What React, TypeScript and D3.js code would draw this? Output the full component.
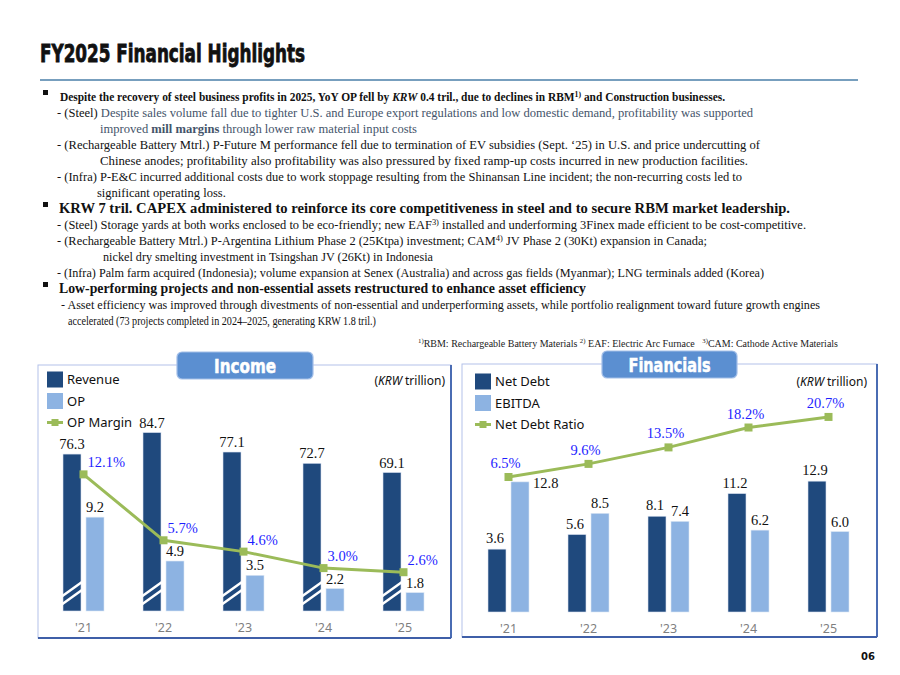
import React from 'react'
import * as d3 from 'd3'

// chart data
const years = ["'21", "'22", "'23", "'24", "'25"]
const revenue = [76.3, 84.7, 77.1, 72.7, 69.1]
const op = [9.2, 4.9, 3.5, 2.2, 1.8]
const opMargin = [12.1, 5.7, 4.6, 3.0, 2.6]
const netDebt = [3.6, 5.6, 8.1, 11.2, 12.9]
const ebitda = [12.8, 8.5, 7.4, 6.2, 6.0]
const netDebtRatio = [6.5, 9.6, 13.5, 18.2, 20.7]

type Seg = { t: string; b?: boolean; i?: boolean; sup?: boolean; muted?: boolean }

// slide text, one entry per printed line
const textRows: Seg[][] = [
  [
    { t: 'Despite the recovery of steel business profits in 2025, YoY OP fell by ' },
    { t: 'KRW', i: true },
    { t: ' 0.4 tril., due to declines in RBM' },
    { t: '1)', sup: true },
    { t: ' and Construction businesses.' }
  ],
  [
    { t: '- (Steel) ' },
    { t: 'Despite sales volume fall due to tighter U.S. and Europe export regulations and low domestic demand, profitability was supported', muted: true }
  ],
  [
    { t: 'improved ', muted: true },
    { t: 'mill margins', muted: true, b: true },
    { t: ' through lower raw material input costs', muted: true }
  ],
  [{ t: '- (Rechargeable Battery Mtrl.) P-Future M performance fell due to termination of EV subsidies (Sept. \u201825) in U.S. and price undercutting of' }],
  [{ t: 'Chinese anodes; profitability also profitability was also pressured by fixed ramp-up costs incurred in new production facilities.' }],
  [{ t: '- (Infra) P-E&C incurred additional costs due to work stoppage resulting from the Shinansan Line incident; the non-recurring costs led to' }],
  [{ t: 'significant operating loss.' }],
  [{ t: 'KRW 7 tril. CAPEX administered to reinforce its core competitiveness in steel and to secure RBM market leadership.' }],
  [
    { t: '- (Steel) Storage yards at both works enclosed to be eco-friendly; new EAF' },
    { t: '3)', sup: true },
    { t: ' installed and underforming 3Finex made efficient to be cost-competitive.' }
  ],
  [
    { t: '- (Rechargeable Battery Mtrl.) P-Argentina Lithium Phase 2 (25Ktpa) investment; CAM' },
    { t: '4)', sup: true },
    { t: ' JV Phase 2 (30Kt) expansion in Canada;' }
  ],
  [{ t: 'nickel dry smelting investment in Tsingshan JV (26Kt) in Indonesia' }],
  [{ t: '- (Infra) Palm farm acquired (Indonesia); volume expansion at Senex (Australia) and across gas fields (Myanmar); LNG terminals added (Korea)' }],
  [{ t: 'Low-performing projects and non-essential assets restructured to enhance asset efficiency' }],
  [{ t: '- Asset efficiency was improved through divestments of non-essential and underperforming assets, while portfolio realignment toward future growth engines' }],
  [{ t: 'accelerated (73 projects completed in 2024\u20132025, generating KRW 1.8 tril.)' }]
]

const footnote: Seg[] = [
  { t: '1)', sup: true },
  { t: 'RBM: Rechargeable Battery Materials ' },
  { t: '2)', sup: true },
  { t: ' EAF: Electric Arc Furnace   ' },
  { t: '3)', sup: true },
  { t: 'CAM: Cathode Active Materials' }
]

// layout per text row: x, fitted width (0 = natural), kind
const rowLayout: { x: number; w: number; kind: 'b1' | 'b2' | 'n' }[] = [
  { x: 60, w: 665, kind: 'b1' },
  { x: 57, w: 696, kind: 'n' },
  { x: 100, w: 317, kind: 'n' },
  { x: 57, w: 703, kind: 'n' },
  { x: 100, w: 648, kind: 'n' },
  { x: 57, w: 685, kind: 'n' },
  { x: 97, w: 0, kind: 'n' },
  { x: 59, w: 731, kind: 'b2' },
  { x: 57, w: 749, kind: 'n' },
  { x: 57, w: 650, kind: 'n' },
  { x: 103, w: 330, kind: 'n' },
  { x: 57, w: 707, kind: 'n' },
  { x: 59, w: 527, kind: 'b2' },
  { x: 61, w: 759, kind: 'n' },
  { x: 68, w: 308, kind: 'n' }
]

const SERIF = "'Liberation Serif', 'Times New Roman', serif"
const SANS = "'Noto Sans', 'Open Sans', sans-serif"
const NARROW = "'Liberation Sans Narrow', 'Arial Narrow', 'DejaVu Sans Condensed', sans-serif"
const NAVY = '#1f497d'
const LIGHT = '#8db3e2'
const GREEN = '#9bbb59'
const BLUE_LABEL = '#1f1fff'
const MUTED = '#44546a'

function Segs({ segs }: { segs: Seg[] }) {
  let raised = false
  return (
    <>
      {segs.map((s, k) => {
        let dy: number | undefined
        if (s.sup) { dy = -4; raised = true } else if (raised) { dy = 4; raised = false }
        return (
          <tspan
            key={k}
            dy={dy}
            fontSize={s.sup ? '68%' : undefined}
            fontWeight={s.b ? 'bold' : undefined}
            fontStyle={s.i ? 'italic' : undefined}
            fill={s.muted ? MUTED : undefined}
          >
            {s.t}
          </tspan>
        )
      })}
    </>
  )
}

function Panel({ x, y, w, h, title, tabX, tabW, titleW }: { x: number; y: number; w: number; h: number; title: string; tabX: number; tabW: number; titleW: number }) {
  return (
    <g>
      <rect x={x} y={y} width={w} height={h} fill="#fff" stroke="#b4c1ea" strokeWidth={1} />
      <line x1={x + w} y1={y} x2={x + w} y2={y + h} stroke="#4a6cb3" strokeWidth={2} />
      <line x1={x} y1={y + h} x2={x + w} y2={y + h} stroke="#3f5fa8" strokeWidth={2} />
      <rect x={tabX} y={y - 13} width={tabW} height={27} rx={5} fill="#5b8fd1" stroke="#a3bfe8" strokeWidth={1.2} />
      <text
        x={tabX + tabW / 2}
        y={y + 8}
        textAnchor="middle"
        fontFamily={NARROW}
        fontWeight="bold"
        fontSize={20}
        fill="#fff"
        stroke="#fff"
        strokeWidth={0.5}
        textLength={titleW}
        lengthAdjust="spacingAndGlyphs"
      >
        {title}
      </text>
    </g>
  )
}

type LegendItem = { label: string; kind: 'box' | 'line'; color: string }

function Legend({ x, y, items }: { x: number; y: number; items: LegendItem[] }) {
  return (
    <g>
      {items.map((it, k) => {
        const cy = y + k * 21.5
        return (
          <g key={it.label}>
            {it.kind === 'box' ? (
              <rect x={x} y={cy - 8} width={16} height={16} fill={it.color} />
            ) : (
              <g>
                <line x1={x} x2={x + 16} y1={cy} y2={cy} stroke={it.color} strokeWidth={3} />
                <rect x={x + 4.5} y={cy - 3.5} width={7} height={7} fill={it.color} />
              </g>
            )}
            <text x={x + 20} y={cy + 4.5} fontFamily={SANS} fontSize={13} fill="#111">{it.label}</text>
          </g>
        )
      })}
    </g>
  )
}

function Unit({ x, y }: { x: number; y: number }) {
  return (
    <text x={x} y={y} textAnchor="end" fontFamily={SANS} fontSize={12} fill="#111">
      (<tspan fontStyle="italic">KRW</tspan> trillion)
    </text>
  )
}

function BreakMarks({ x, base }: { x: number; base: number }) {
  return (
    <g stroke="#fff" strokeWidth={2.5}>
      <line x1={x - 2} y1={base - 14} x2={x + 19} y2={base - 29} />
      <line x1={x - 2} y1={base - 6} x2={x + 19} y2={base - 21} />
    </g>
  )
}

function IncomeChart() {
  const x = d3.scaleBand<string>().domain(years).range([43.5, 443.5])
  const cx = (i: number) => (x(years[i]) ?? 0) + x.bandwidth() / 2
  const yRev = d3.scaleLinear().domain([15, 90]).range([611, 419])
  const yOp = d3.scaleLinear().domain([0, 10]).range([611, 509])
  const yMargin = d3.scaleLinear().domain([0, 14]).range([599, 454.8])
  const base = yRev(15)
  const line = d3.line<number>().x((_, i) => cx(i)).y(d => yMargin(d))
  const bw = 18

  return (
    <g>
      <Panel x={38} y={365} w={413} h={273} title="Income" tabX={177} tabW={136} titleW={62} />
      <Legend x={47} y={379.5} items={[
        { label: 'Revenue', kind: 'box', color: NAVY },
        { label: 'OP', kind: 'box', color: LIGHT },
        { label: 'OP Margin', kind: 'line', color: GREEN }
      ]} />
      <Unit x={445} y={384.5} />
      {revenue.map((v, i) => {
        const bx = cx(i) - 2.5 - bw
        return (
          <g key={'r' + i}>
            <rect x={bx} y={yRev(v)} width={bw} height={base - yRev(v)} fill={NAVY} stroke="#d9e2f1" strokeWidth={0.6} />
            <BreakMarks x={bx} base={base} />
            <text x={bx + bw / 2} y={yRev(v) - 5} textAnchor="middle" fontFamily={SERIF} fontSize={14.5} fill="#111">{v.toFixed(1)}</text>
          </g>
        )
      })}
      {op.map((v, i) => {
        const bx = cx(i) + 2.5
        return (
          <g key={'o' + i}>
            <rect x={bx} y={yOp(v)} width={bw} height={yOp(0) - yOp(v)} fill={LIGHT} stroke="#dbe6f4" strokeWidth={0.6} />
            <text x={bx + bw / 2} y={yOp(v) - 5} textAnchor="middle" fontFamily={SERIF} fontSize={14.5} fill="#111">{v.toFixed(1)}</text>
          </g>
        )
      })}
      <path d={line(opMargin) ?? ''} fill="none" stroke={GREEN} strokeWidth={3} />
      {opMargin.map((v, i) => (
        <g key={'m' + i}>
          <rect x={cx(i) - 4} y={yMargin(v) - 4} width={8} height={8} fill={GREEN} />
          <text x={cx(i) + 4} y={yMargin(v) - 7} fontFamily={SERIF} fontSize={14.5} fill={BLUE_LABEL}>{v.toFixed(1)}%</text>
        </g>
      ))}
      {years.map((yr, i) => (
        <text key={yr} x={cx(i)} y={631.5} textAnchor="middle" fontFamily={SANS} fontSize={12.5} fill="#7f7f7f">{yr}</text>
      ))}
    </g>
  )
}

function FinancialsChart() {
  const x = d3.scaleBand<string>().domain(years).range([468.5, 868.5])
  const cx = (i: number) => (x(years[i]) ?? 0) + x.bandwidth() / 2
  const yBar = d3.scaleLinear().domain([-5, 15]).range([612, 465.8])
  const yRatio = d3.scaleLinear().domain([0, 25]).range([504.5, 398.75])
  const base = yBar(-5)
  const line = d3.line<number>().x((_, i) => cx(i)).y(d => yRatio(d))
  const bw = 18

  return (
    <g>
      <Panel x={462} y={364} w={415} h={273} title="Financials" tabX={602} tabW={135} titleW={82} />
      <Legend x={475} y={381.5} items={[
        { label: 'Net Debt', kind: 'box', color: NAVY },
        { label: 'EBITDA', kind: 'box', color: LIGHT },
        { label: 'Net Debt Ratio', kind: 'line', color: GREEN }
      ]} />
      <Unit x={867} y={386} />
      {netDebt.map((v, i) => {
        const bx = cx(i) - 2.5 - bw
        return (
          <g key={'n' + i}>
            <rect x={bx} y={yBar(v)} width={bw} height={base - yBar(v)} fill={NAVY} stroke="#d9e2f1" strokeWidth={0.6} />
            <text x={bx + bw / 2 - 2} y={yBar(v) - 6} textAnchor="middle" fontFamily={SERIF} fontSize={14.5} fill="#111">{v.toFixed(1)}</text>
          </g>
        )
      })}
      {ebitda.map((v, i) => {
        const bx = cx(i) + 2.5
        // first label sits beside the bar, clear of the ratio marker
        const side = i === 0
        return (
          <g key={'e' + i}>
            <rect x={bx} y={yBar(v)} width={bw} height={base - yBar(v)} fill={LIGHT} stroke="#dbe6f4" strokeWidth={0.6} />
            <text
              x={side ? bx + bw + 4 : bx + bw / 2}
              y={side ? yBar(v) + 6 : yBar(v) - 5}
              textAnchor={side ? 'start' : 'middle'}
              fontFamily={SERIF}
              fontSize={14.5}
              fill="#111"
            >
              {v.toFixed(1)}
            </text>
          </g>
        )
      })}
      <path d={line(netDebtRatio) ?? ''} fill="none" stroke={GREEN} strokeWidth={3} />
      {netDebtRatio.map((v, i) => (
        <g key={'d' + i}>
          <rect x={cx(i) - 4} y={yRatio(v) - 4} width={8} height={8} fill={GREEN} />
          <text x={cx(i) - 3} y={yRatio(v) - 9} textAnchor="middle" fontFamily={SERIF} fontSize={14.5} fill={BLUE_LABEL}>{v.toFixed(1)}%</text>
        </g>
      ))}
      {years.map((yr, i) => (
        <text key={yr} x={cx(i)} y={632.5} textAnchor="middle" fontFamily={SANS} fontSize={12.5} fill="#7f7f7f">{yr}</text>
      ))}
    </g>
  )
}

export default function App() {
  return (
    <svg width={900} height={675} style={{ position: 'absolute', left: 0, top: 0, background: '#fff' }}>
      <rect width={900} height={675} fill="#fff" />
      <text
        x={40}
        y={62}
        fontFamily={NARROW}
        fontWeight="bold"
        fontSize={25}
        fill="#111"
        stroke="#111"
        strokeWidth={0.8}
        textLength={265}
        lengthAdjust="spacingAndGlyphs"
      >
        FY2025 Financial Highlights
      </text>
      <line x1={40} x2={858} y1={80} y2={80} stroke="#4a7fa8" strokeWidth={1.5} />

      {textRows.map((segs, r) => {
        const lay = rowLayout[r]
        const y = 97 + r * 16
        const bold = lay.kind !== 'n'
        const size = lay.kind === 'b1' ? 13.5 : lay.kind === 'b2' ? 14 : 12.5
        return (
          <g key={r}>
            {bold && <rect x={43} y={y - 7} width={5} height={5} fill="#111" />}
            <text
              x={lay.x}
              y={y + 4}
              fontFamily={SERIF}
              fontSize={size}
              fontWeight={bold ? 'bold' : 'normal'}
              fill="#111"
              textLength={lay.w || undefined}
              lengthAdjust={lay.w ? 'spacingAndGlyphs' : undefined}
              style={{ whiteSpace: 'pre' }}
            >
              <Segs segs={segs} />
            </text>
          </g>
        )
      })}

      <text x={418} y={347} fontFamily={SERIF} fontSize={10} fill="#222" textLength={420} lengthAdjust="spacingAndGlyphs" style={{ whiteSpace: 'pre' }}>
        <Segs segs={footnote} />
      </text>

      <IncomeChart />
      <FinancialsChart />

      <text x={868} y={660} textAnchor="middle" fontFamily="'DejaVu Sans', sans-serif" fontWeight="bold" fontSize={10} fill="#111">06</text>
    </svg>
  )
}
